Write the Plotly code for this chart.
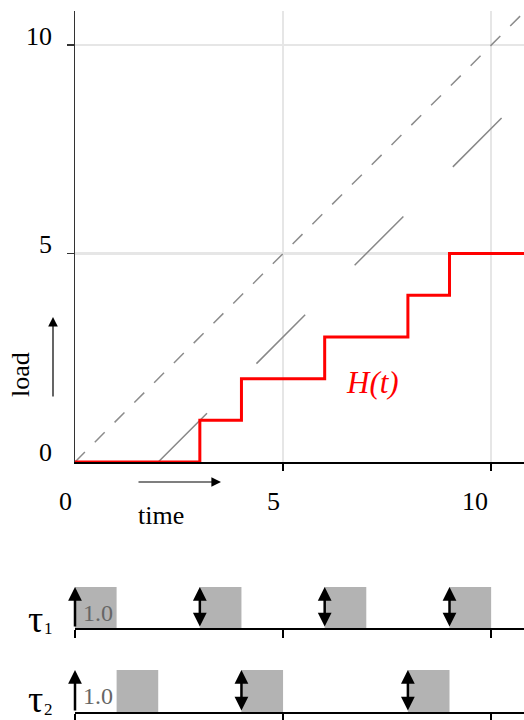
import plotly.graph_objects as go

# ---- data ----
# H(t) step function
h_t = [0, 3, 4, 6, 8, 9, 10.79]
h_v = [0, 1, 2, 3, 4, 5, 5]
# identity (dashed) and shifted bound (long dashes)
diag_x = [0, 10.79]
diag_y = [0, 10.79]
bound_x = [2, 10.79]
bound_y = [0, 8.79]
# tick values / labels
x_tickvals = [0, 5, 10]
x_ticktext = ["0", "5", "10"]
y_tickvals = [0, 5, 10]
y_ticktext = ["0", "5", "10"]
# task timelines
tau1_exec = [0, 3, 6, 9]
tau1_release = [0, 3, 6, 9]
tau2_exec = [1, 4, 8]
tau2_release = [0, 4, 8]
exec_time = 1.0

FONT = "Liberation Serif, Times New Roman, serif"
XMAX = 10.79
W, H = 524, 720
L = 75


def px(xp):
    return (xp - L) / (W - L)


def py(yp):
    return 1 - yp / H


fig = go.Figure()

fig.add_trace(go.Scatter(x=diag_x, y=diag_y, mode="lines",
                         line=dict(color="#8c8c8c", width=1.5, dash="14px,14px"),
                         cliponaxis=False, hoverinfo="skip"))
fig.add_trace(go.Scatter(x=bound_x, y=bound_y, mode="lines",
                         line=dict(color="#888888", width=1.5, dash="69px,70px"),
                         cliponaxis=False, hoverinfo="skip"))
fig.add_trace(go.Scatter(x=h_t, y=h_v, mode="lines", line_shape="hv",
                         line=dict(color="#ff0000", width=3),
                         cliponaxis=False, hoverinfo="skip"))

# timelines
fig.add_trace(go.Bar(x=tau1_exec, y=[exec_time] * len(tau1_exec), width=1, offset=0,
                     marker=dict(color="#b3b3b3", line_width=0), xaxis="x2", yaxis="y2",
                     hoverinfo="skip"))
fig.add_trace(go.Bar(x=tau2_exec, y=[exec_time] * len(tau2_exec), width=1, offset=0,
                     marker=dict(color="#b3b3b3", line_width=0), xaxis="x3", yaxis="y3",
                     hoverinfo="skip"))

ann = []
# y tick labels
for v, t in zip(y_tickvals, y_ticktext):
    ann.append(dict(x=0, y=v, xref="x", yref="y", text=t, showarrow=False,
                    xanchor="right", yanchor="middle", xshift=-21, yshift=9,
                    font=dict(family=FONT, size=26, color="black")))
# x tick labels
for v, t in zip(x_tickvals, x_ticktext):
    ann.append(dict(x=v, y=0, xref="x", yref="y", text=t, showarrow=False,
                    xanchor="right", yanchor="middle", xshift=-1, yshift=-40,
                    font=dict(family=FONT, size=26, color="black")))

# H(t)
ann.append(dict(x=7.14, y=1.9, xref="x", yref="y", text="<i>H(t)</i>", showarrow=False,
                xanchor="center", yanchor="middle",
                font=dict(family=FONT, size=31, color="#ff0000")))

# load / time labels with arrows
ann.append(dict(x=px(20), y=py(375), xref="paper", yref="paper", text="load",
                xanchor="center", yanchor="middle",
                textangle=-90, showarrow=False, font=dict(family=FONT, size=26, color="black")))
ann.append(dict(x=px(53), y=py(317), xref="paper", yref="paper", text="",
                showarrow=True, ax=0, ay=81, arrowhead=2, arrowsize=1.6, arrowwidth=1.2,
                arrowcolor="black", standoff=0))
ann.append(dict(x=px(161), y=py(515), xref="paper", yref="paper", text="time",
                xanchor="center", yanchor="middle",
                showarrow=False, font=dict(family=FONT, size=26, color="black")))
ann.append(dict(x=px(221), y=py(482), xref="paper", yref="paper", text="",
                showarrow=True, ax=-84, ay=0, arrowhead=2, arrowsize=1.6, arrowwidth=1.2,
                arrowcolor="black", standoff=0))

# timeline arrows
for releases, xr, yr in [(tau1_release, "x2", "y2"), (tau2_release, "x3", "y3")]:
    for i, r in enumerate(releases):
        ann.append(dict(x=r, y=1, xref=xr, yref=yr, axref=xr, ayref=yr, ax=r, ay=0,
                        text="", showarrow=True, arrowhead=2, arrowsize=1.1, arrowwidth=2.5,
                        arrowcolor="black", standoff=0, startstandoff=0,
                        arrowside="end" if i == 0 else "end+start", startarrowhead=2,
                        startarrowsize=1.1))
    ann.append(dict(x=0, y=0.37, xref=xr, yref=yr, text="%.1f" % exec_time, showarrow=False,
                    xanchor="left", yanchor="middle", xshift=6,
                    font=dict(family=FONT, size=24, color="#666666")))

# tau labels
for name, sub, yc, ys in [("τ", "1", 619, 628.5), ("τ", "2", 699, 709.5)]:
    ann.append(dict(x=px(35), y=py(yc), xref="paper", yref="paper", text=name,
                    showarrow=False, xanchor="center", yanchor="middle",
                    borderpad=0, borderwidth=0,
                    font=dict(family=FONT, size=38, color="black")))
    ann.append(dict(x=px(44), y=py(ys), xref="paper", yref="paper", text=sub,
                    showarrow=False, xanchor="left", yanchor="middle",
                    borderpad=0, borderwidth=0,
                    font=dict(family=FONT, size=17, color="black")))

grid = "#e6e6e6"
fig.update_layout(
    width=W, height=H,
    margin=dict(l=L, r=0, t=0, b=0),
    paper_bgcolor="white", plot_bgcolor="white",
    showlegend=False,
    barmode="overlay",
    hovermode=False,
    annotations=ann,
    xaxis=dict(domain=[0, 1], range=[0, XMAX], anchor="y", showline=True, linecolor="black",
               linewidth=1.5, ticks="outside", tickvals=[5, 10], ticklen=7, tickwidth=1.5,
               tickcolor="black", showticklabels=False, showgrid=True, gridcolor=grid,
               gridwidth=2.5, zeroline=False, layer="below traces", automargin=False),
    yaxis=dict(domain=[py(462), py(11)], range=[0, 10.82], anchor="x",
               showline=True, linecolor="#333333", linewidth=1.5, ticks="outside",
               tickvals=[5, 10], ticklen=7, tickwidth=1.5, tickcolor="#333333",
               showticklabels=False, showgrid=True, gridcolor=grid, gridwidth=2.5,
               zeroline=False, layer="below traces", automargin=False),
    xaxis2=dict(domain=[0, 1], range=[0, XMAX], anchor="y2", showline=True, linecolor="black",
                linewidth=1.5, ticks="outside", tickvals=[0, 5, 10], ticklen=8, tickwidth=1.5,
                tickcolor="black", showticklabels=False, showgrid=False, zeroline=False,
                automargin=False),
    yaxis2=dict(domain=[py(628), py(587)], range=[0, 1], anchor="x2",
                visible=False, showgrid=False, zeroline=False),
    xaxis3=dict(domain=[0, 1], range=[0, XMAX], anchor="y3", showline=True, linecolor="black",
                linewidth=1.5, ticks="outside", tickvals=[0, 5, 10], ticklen=8, tickwidth=1.5,
                tickcolor="black", showticklabels=False, showgrid=False, zeroline=False,
                automargin=False),
    yaxis3=dict(domain=[py(712), py(670)], range=[0, 1], anchor="x3",
                visible=False, showgrid=False, zeroline=False),
)

fig.write_html("out.html",
               config={"displayModeBar": False, "staticPlot": True},
               post_script="document.body.style.margin='0';"
                           "document.documentElement.style.overflow='hidden';")
